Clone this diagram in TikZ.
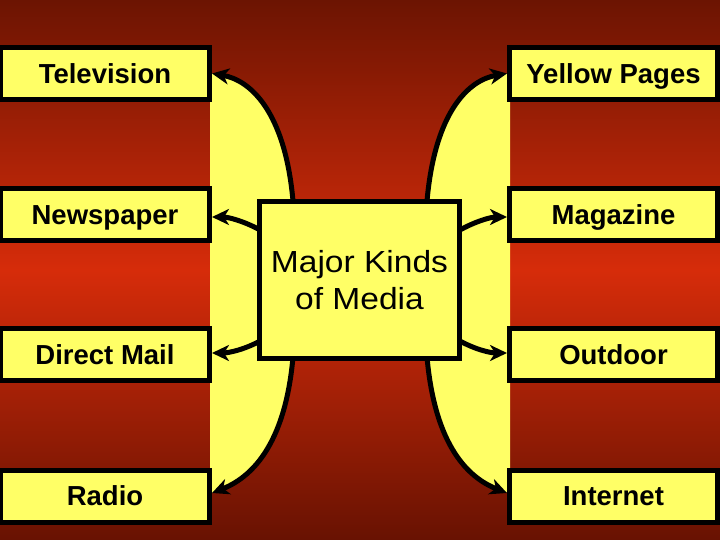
\documentclass[tikz,border=0pt]{standalone}
\usepackage{fontspec}
\setmainfont{Liberation Sans}
\usetikzlibrary{arrows.meta}
\definecolor{bgtop}{RGB}{108,20,2}
\definecolor{bgmid}{RGB}{214,44,10}
\definecolor{bgbot}{RGB}{104,18,2}
\definecolor{boxyellow}{RGB}{255,255,102}
\begin{document}
\begin{tikzpicture}[x=1pt,y=-1pt,
  lbox/.style={draw=black,fill=boxyellow,line width=5pt,minimum width=209pt,minimum height=52pt,inner sep=0pt,text height=20pt,text depth=0.7pt,font=\fontsize{27.5}{32}\selectfont\bfseries},
  rbox/.style={lbox,minimum width=208pt},
  cbox/.style={draw=black,fill=boxyellow,line width=5pt,minimum width=200pt,minimum height=157pt,inner sep=0pt,align=center,font=\fontsize{30.5}{37}\selectfont},
  arr/.style={line width=5pt,-{Stealth[length=17pt,width=16pt,inset=5pt]}},
  band/.style={fill=boxyellow}]
\useasboundingbox (0,0) rectangle (720,540);
\shade[top color=bgtop, bottom color=bgbot, middle color=bgmid] (0,0) rectangle (720,540);
% yellow bands
\fill[band] (210,73.5) -- (212,73.5) .. controls (250,80) and (285,110) .. (293,200) -- (293,358) .. controls (285,448) and (250,478) .. (212,493) -- (210,493) -- cycle;
\fill[band] (510,73.5) -- (508,73.5) .. controls (470,80) and (435,110) .. (427,200) -- (427,358) .. controls (435,448) and (470,478) .. (508,493) -- (510,493) -- cycle;
% boxes
\node[lbox] (tv) at (105,73.5) {Television};
\node[lbox] (np) at (105,214.5) {Newspaper};
\node[lbox] (dm) at (105,354.5) {Direct Mail};
\node[lbox] (rd) at (105,496) {Radio};
\node[rbox] (yp) at (613.5,73.5) {Yellow Pages};
\node[rbox] (mg) at (613.5,214.5) {Magazine};
\node[rbox] (od) at (613.5,354.5) {Outdoor};
\node[rbox] (in) at (613.5,496) {Internet};
% start points on the central box
\coordinate (sTL) at (293,201);
\coordinate (sBL) at (293,357);
\coordinate (sTR) at (427,201);
\coordinate (sBR) at (427,357);
\coordinate (sNL) at (262,231);
\coordinate (sDL) at (262,340);
\coordinate (sNR) at (458,231);
\coordinate (sDR) at (458,340);
% arrows
\draw[arr] (sTL) .. controls +(-8,-90) and +(38,6.5) .. (tv.east);
\draw[arr] (sBL) .. controls +(-8,90) and +(38,-15) .. ([yshift=3pt]rd.east);
\draw[arr] (sTR) .. controls +(8,-90) and +(-38,6.5) .. (yp.west);
\draw[arr] (sBR) .. controls +(8,90) and +(-38,-15) .. ([yshift=3pt]in.west);
\draw[arr] (sNL) .. controls +(-18,-10) and +(16,0) .. ([yshift=-2.5pt]np.east);
\draw[arr] (sDL) .. controls +(-18,10) and +(16,0) .. ([yshift=1.5pt]dm.east);
\draw[arr] (sNR) .. controls +(18,-10) and +(-16,0) .. ([yshift=-2.5pt]mg.west);
\draw[arr] (sDR) .. controls +(18,10) and +(-16,0) .. ([yshift=1.5pt]od.west);
% central box
\node[cbox] (c) at (359.5,280) {\scalebox{1.1}[1]{Major Kinds}\\\scalebox{1.1}[1]{of Media}};
\end{tikzpicture}
\end{document}
